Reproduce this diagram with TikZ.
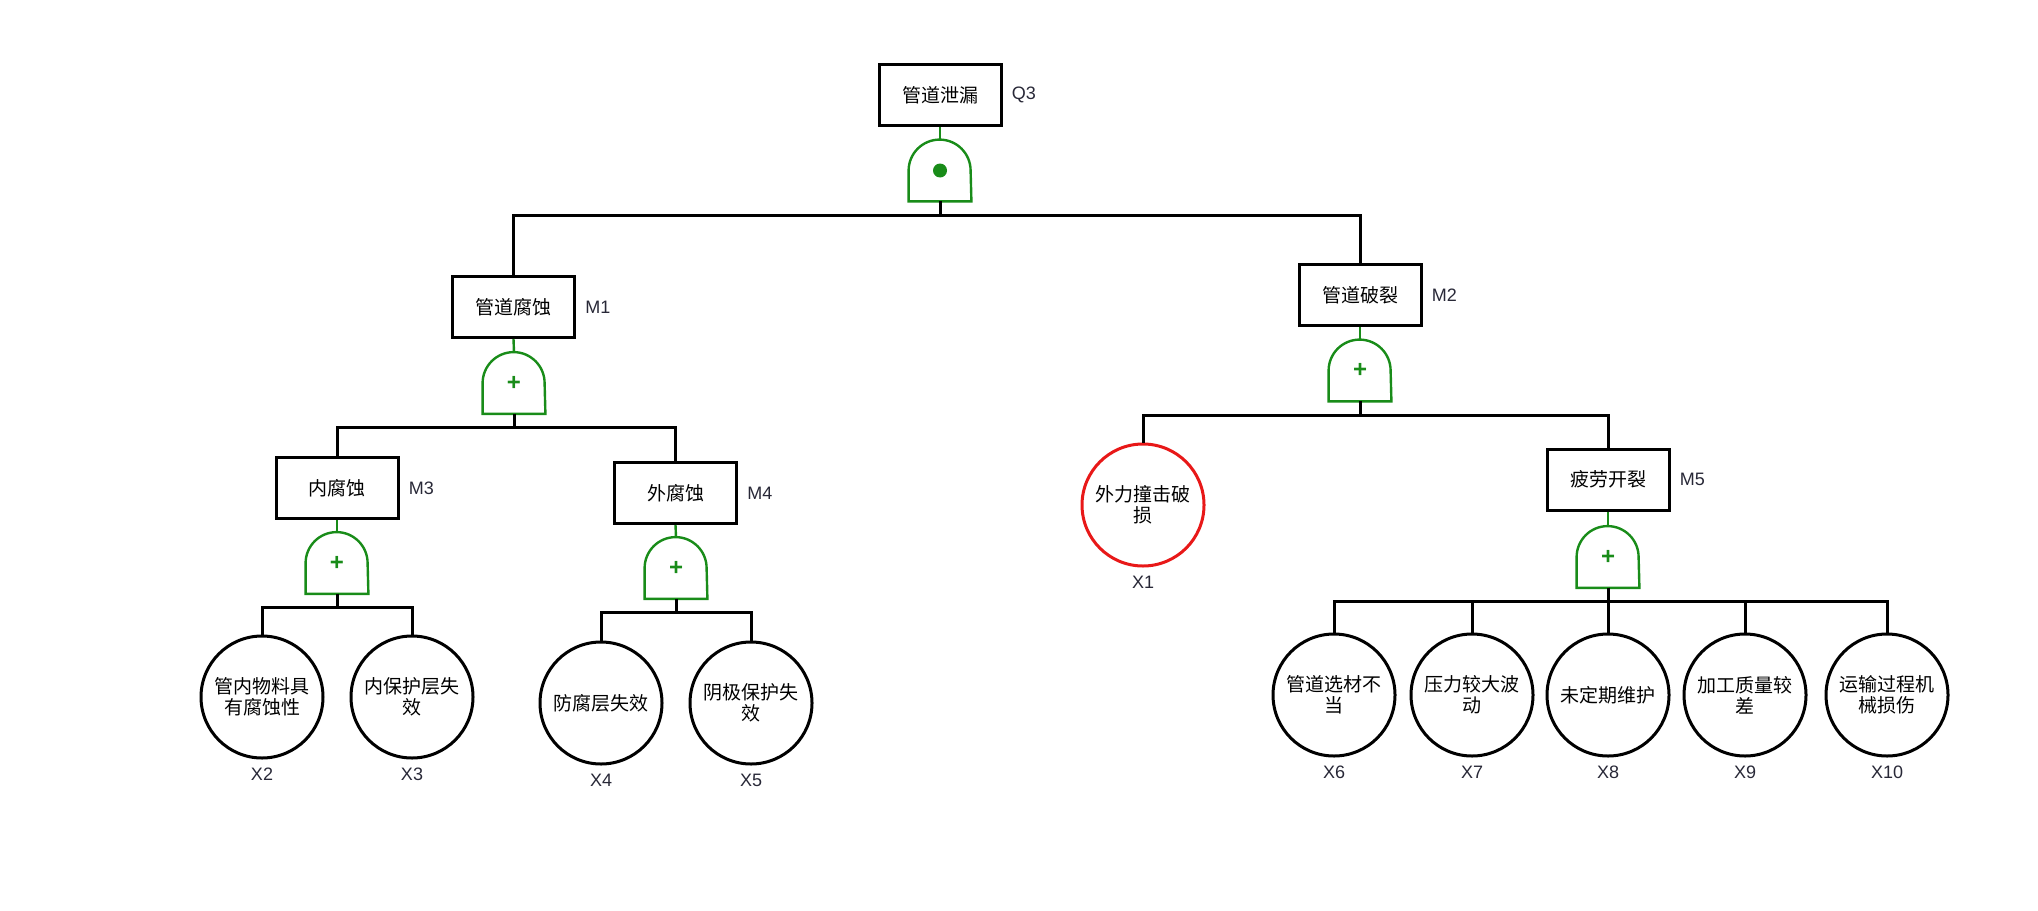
\documentclass[tikz,border=0pt]{standalone}
\usepackage{fontspec}
\newfontfamily\cjk{Noto Sans CJK SC}
\newfontfamily\tagfont{Liberation Sans}
\usetikzlibrary{calc,positioning}
\definecolor{gatecol}{RGB}{25,140,25}
\definecolor{basered}{RGB}{232,24,24}
\definecolor{tagcol}{RGB}{40,40,55}
\tikzset{
	event/.style={draw, line width=1.5pt, minimum width=61pt, minimum height=30.5pt, inner sep=0pt, font=\cjk\fontsize{9.5}{10.5}\selectfont},
	basic/.style={circle, draw, line width=1.5pt, minimum size=61pt, inner sep=0pt, align=center, font=\cjk\fontsize{9.5}{10.5}\selectfont},
	gate/.style={minimum width=31pt, minimum height=30.5pt, inner sep=0pt, text=gatecol, font=\tagfont\bfseries\fontsize{12}{12}\selectfont},
	tag/.style={inner sep=0.5pt, text=tagcol, font=\tagfont\fontsize{9}{9}\selectfont},
	link/.style={line width=1.5pt},
	stub/.style={line width=1.2pt, color=gatecol},
}
\def\gateshape(#1){\draw[line width=1.2pt, color=gatecol] (#1.south west) -- ($(#1.north west)+(0,31)$) arc[start angle=180, end angle=360, radius=31] -- (#1.south east) -- cycle;}

\begin{document}
\begin{tikzpicture}[x=0.5pt, y=-0.5pt]
			%%%%% START %%%%%
			\useasboundingbox (0, 0) rectangle (2038, 910);
			
			\node[event] (q3) at (940, 95) {管道泄漏};
			\node[tag, right=4pt of q3] (q3t) {Q3};
			\node[gate] (g0) at (940, 170.5) {};
			\gateshape(g0)
			\fill[gatecol] (g0.center) circle (3.5pt);
			\draw[stub] (q3.south) -- (g0.north);
			
			\node[event] (m1) at (513.5, 307) {管道腐蚀};
			\node[tag, right=4pt of m1] (m1t) {M1};
			\node[gate] (g1) at (514, 383) {+};
			\gateshape(g1)
			\draw[stub] (m1.south) -- (g1.north);
			
			\node[event] (m2) at (1360, 295) {管道破裂};
			\node[tag, right=4pt of m2] (m2t) {M2};
			\node[gate] (g2) at (1360, 370.5) {+};
			\gateshape(g2)
			\draw[stub] (m2.south) -- (g2.north);
			
			\draw[link] (g0.south) -- ++(0, 14) -| (m1.north);
			\draw[link] (g0.south) -- ++(0, 14) -| (m2.north);
			
			\node[event] (m3) at (337, 488) {内腐蚀};
			\node[tag, right=4pt of m3] (m3t) {M3};
			\node[gate] (g3) at (337, 563) {+};
			\gateshape(g3)
			\draw[stub] (m3.south) -- (g3.north);
			
			\node[event] (m4) at (675.5, 493) {外腐蚀};
			\node[tag, right=4pt of m4] (m4t) {M4};
			\node[gate] (g4) at (676, 568) {+};
			\gateshape(g4)
			\draw[stub] (m4.south) -- (g4.north);
			
			\draw[link] (g1.south) -- ++(0, 14) -| (m3.north);
			\draw[link] (g1.south) -- ++(0, 14) -| (m4.north);
			
			\node[basic] (x2) at (262, 697) {管内物料具\\有腐蚀性};
			\node[tag, below=3.5pt of x2] (x2t) {X2};
			\node[basic] (x3) at (412, 697) {内保护层失\\效};
			\node[tag, below=3.5pt of x3] (x3t) {X3};
			\draw[link] (g3.south) -- ++(0, 14) -| (x2.north);
			\draw[link] (g3.south) -- ++(0, 14) -| (x3.north);
			
			\node[basic] (x4) at (601, 703) {防腐层失效};
			\node[tag, below=3.5pt of x4] (x4t) {X4};
			\node[basic] (x5) at (751, 703) {阴极保护失\\效};
			\node[tag, below=3.5pt of x5] (x5t) {X5};
			\draw[link] (g4.south) -- ++(0, 14) -| (x4.north);
			\draw[link] (g4.south) -- ++(0, 14) -| (x5.north);
			
			\node[basic, draw=basered] (x1) at (1143, 505) {外力撞击破\\损};
			\node[tag, below=3.5pt of x1] (x1t) {X1};
			
			\node[event] (m5) at (1608, 479.5) {疲劳开裂};
			\node[tag, right=4pt of m5] (m5t) {M5};
			\node[gate] (g5) at (1608, 557) {+};
			\gateshape(g5)
			\draw[stub] (m5.south) -- (g5.north);
			
			\draw[link] (g2.south) -- ++(0, 14) -| (x1.north);
			\draw[link] (g2.south) -- ++(0, 14) -| (m5.north);
			
			\node[basic] (x6) at (1334, 695) {管道选材不\\当};
			\node[tag, below=3.5pt of x6] (x6t) {X6};
			\node[basic] (x7) at (1472, 695) {压力较大波\\动};
			\node[tag, below=3.5pt of x7] (x7t) {X7};
			\node[basic] (x8) at (1608, 695) {未定期维护};
			\node[tag, below=3.5pt of x8] (x8t) {X8};
			\node[basic] (x9) at (1745, 695) {加工质量较\\差};
			\node[tag, below=3.5pt of x9] (x9t) {X9};
			\node[basic] (x10) at (1887, 695) {运输过程机\\械损伤};
			\node[tag, below=3.5pt of x10] (x10t) {X10};
			
			\draw[link] (g5.south) -- ++(0, 14) -| (x6.north);
			\draw[link] (g5.south) -- ++(0, 14) -| (x7.north);
			\draw[link] (g5.south) -- ++(0, 14) -| (x8.north);
			\draw[link] (g5.south) -- ++(0, 14) -| (x9.north);
			\draw[link] (g5.south) -- ++(0, 14) -| (x10.north);
			
			%%%%% END %%%%%
\end{tikzpicture}
\end{document}
